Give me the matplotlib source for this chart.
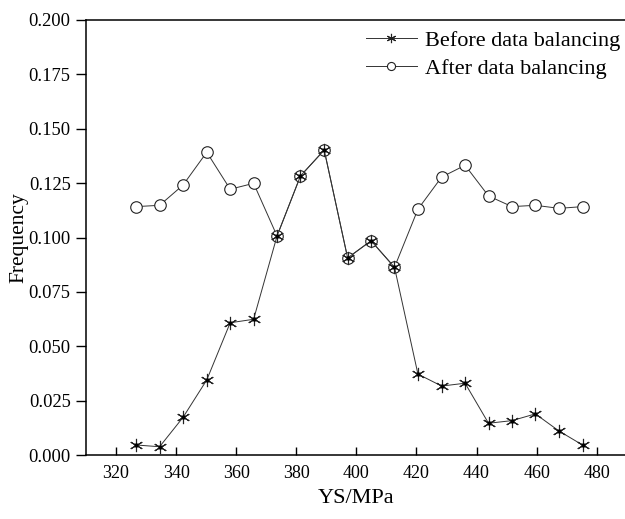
import numpy as np
import matplotlib.pyplot as plt

# bin centres (YS, MPa) and frequencies
ys = [326.7, 334.5, 342.3, 350.2, 358.0, 365.8, 373.6, 381.4, 389.3, 397.1,
      404.9, 412.7, 420.5, 428.4, 436.2, 444.0, 451.8, 459.6, 467.5, 475.3]
before = [0.0046, 0.0038, 0.0173, 0.0345, 0.0608, 0.0624, 0.1007, 0.1283, 0.1402, 0.0906,
          0.0985, 0.0863, 0.0372, 0.0317, 0.0330, 0.0146, 0.0158, 0.0189, 0.0110, 0.0046]
after = [0.1142, 0.1148, 0.1241, 0.1392, 0.1222, 0.1249, 0.1007, 0.1283, 0.1402, 0.0906,
         0.0985, 0.0863, 0.1130, 0.1278, 0.1332, 0.1191, 0.1142, 0.1148, 0.1134, 0.1142]

xticks = [320, 340, 360, 380, 400, 420, 440, 460, 480]
yticks = [0.000, 0.025, 0.050, 0.075, 0.100, 0.125, 0.150, 0.175, 0.200]


def make_plot():
    plt.rcParams['font.family'] = ['Liberation Serif', 'DejaVu Serif']

    fig = plt.figure(figsize=(6.25, 5.19), dpi=100)
    ax = fig.add_axes([86/625, 64/519, 540.7/625, 435/519])

    lc = '#333333'
    h2, = ax.plot(ys, after, '-', color=lc, lw=0.7, marker='o', ms=8.3,
                  mfc='white', mec='#222222', mew=0.8, label='After data balancing', zorder=2)
    h1, = ax.plot(ys, before, '-', color=lc, lw=0.7, marker=(6, 2, 0), ms=9.5,
                  mec='#222222', mew=0.8, label='Before data balancing', zorder=3)
    ax.plot(ys, before, ls='none', marker='o', ms=2.2, mfc='black', mec='black', zorder=4)

    ax.set_xlim(310, 490)
    ax.set_ylim(0, 0.2)
    ax.set_xticks(xticks)
    ax.set_yticks(yticks)
    ax.set_yticklabels(['%.3f' % v for v in yticks])

    ax.tick_params(axis='x', direction='in', length=6, width=1, labelsize=13, pad=7)
    ax.tick_params(axis='y', direction='out', length=7, width=1, labelsize=13.3, pad=4)
    for s in ax.spines.values():
        s.set_linewidth(1.1)

    ax.set_xlabel('YS/MPa', fontsize=16, labelpad=5)
    ax.set_ylabel('Frequency', fontsize=15.5, labelpad=0)

    ax.legend(handles=[h1, h2], loc='upper right', bbox_to_anchor=(620/625, 1 - 30/519),
              bbox_transform=fig.transFigure, frameon=False, fontsize=16,
              handlelength=2.3, handletextpad=0.35, labelspacing=0.35,
              borderpad=0, borderaxespad=0, markerscale=0.7)

    plt.savefig('out.png', dpi=100)
    plt.close()


if __name__ == '__main__':
    make_plot()
